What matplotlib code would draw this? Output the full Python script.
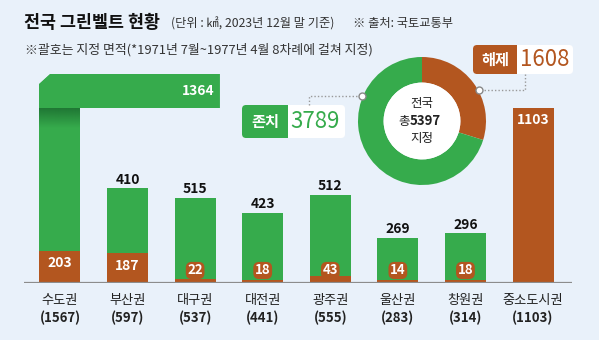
import numpy as np
import matplotlib.pyplot as plt
from matplotlib.patches import Polygon, FancyBboxPatch, Rectangle, Circle

plt.rcParams['font.family'] = ['Noto Sans CJK KR', 'DejaVu Sans']

# data (km2, end of 2023)
regions = ['수도권', '부산권', '대구권', '대전권', '광주권', '울산권', '창원권', '중소도시권']
designated = [1567, 597, 537, 441, 555, 283, 314, 1103]
remaining = [1364, 410, 515, 423, 512, 269, 296, 0]
released = [203, 187, 22, 18, 43, 14, 18, 1103]

total_designated = 5397
total_remaining = 3789
total_released = 1608

BG = '#E9F1FA'
GREEN = '#36AB4C'
ORANGE = '#B3561F'

W, H = 599, 340
fig = plt.figure(figsize=(W / 100, H / 100), dpi=100, facecolor=BG)


def box(x0, y0, x1, y1):
    # pixel box (origin top-left) -> figure rect
    return [x0 / W, 1 - y1 / H, (x1 - x0) / W, (y1 - y0) / H]


# ---- bar chart ----
SCALE = 0.1585          # px per km2
base_y, top_y = 282.7, 74
step = 67.6
ax = fig.add_axes(box(24, top_y, 572, base_y))
ax.set_facecolor('none')
ax.axis('off')
ymax = (base_y - top_y) / SCALE
x = np.arange(len(regions))
bw = 41 / step

ax.bar(x, released, bw, color=ORANGE, zorder=2)
ax.bar(x, remaining, bw, bottom=released, color=GREEN, zorder=2)
ax.axhline(0, color='#8c8c8c', lw=1.6, zorder=3)

# capital region bar bends into a banner
left = x[0] - bw / 2
right = (220 - 60) / step
y_ban = (base_y - 108) / SCALE
cx, cy = 11 / step, 10 / SCALE
ax.add_patch(Polygon([(left, y_ban), (left, ymax - cy), (left + cx, ymax),
                      (right, ymax), (right, y_ban)], closed=True,
                     fc=GREEN, ec='none', zorder=4, clip_on=False))
ax.add_patch(Polygon([(left - 0.01, ymax - cy), (left - 0.01, ymax + 1),
                      (left + cx, ymax + 1)], closed=True,
                     fc=BG, ec='none', zorder=3.5, clip_on=False))
grad = np.zeros((40, 1, 4))
grad[..., :3] = np.array([0x1C, 0x6E, 0x30]) / 255
grad[:, 0, 3] = np.linspace(0.85, 0, 40)
ax.imshow(grad, extent=[left, left + bw, y_ban - 20 / SCALE, y_ban],
          aspect='auto', zorder=3, interpolation='bilinear')
ax.text(right - 5 / step, (y_ban + ymax) / 2, f'{remaining[0]}', color='white',
        fontsize=10, fontweight='bold', ha='right', va='center', zorder=5)

ax.set_xlim(-36 / step, 7 + 39 / step)
ax.set_ylim(0, ymax)

for i in range(len(regions)):
    if 0 < i < len(regions) - 1:
        ax.annotate(f'{remaining[i]}', (x[i], designated[i]), xytext=(0, 1),
                    textcoords='offset points', ha='center', va='bottom',
                    fontsize=10, fontweight='bold', color='#111')
    if released[i] >= 100:
        ax.annotate(f'{released[i]}', (x[i], released[i]), xytext=(0, -4),
                    textcoords='offset points', ha='center', va='top',
                    fontsize=10, fontweight='bold', color='white', zorder=5)
    else:
        ax.annotate(f'{released[i]}', (x[i], 0), xytext=(0, 8.8),
                    textcoords='offset points', ha='center', va='center',
                    fontsize=9.5, fontweight='bold', color='white', zorder=5,
                    bbox=dict(boxstyle='round,pad=0.12,rounding_size=0.45',
                              fc=ORANGE, ec='none'))
    ax.annotate(regions[i], (x[i], 0), xytext=(0, -12.5),
                textcoords='offset points', ha='center', va='center',
                fontsize=9.5, color='#222', annotation_clip=False)
    ax.annotate(f'({designated[i]})', (x[i], 0), xytext=(0, -25.5),
                textcoords='offset points', ha='center', va='center',
                fontsize=9.5, fontweight='bold', color='#222', annotation_clip=False)

# ---- donut ----
dcx, dcy, r = 422, 121, 64
dax = fig.add_axes(box(dcx - r, dcy - r, dcx + r, dcy + r))
dax.pie([total_released, total_remaining], colors=[ORANGE, GREEN],
        startangle=90, counterclock=False, radius=1,
        wedgeprops=dict(width=0.4, edgecolor='none'))
dax.add_patch(Circle((0, 0), 0.6, fc='white', ec='none'))
dax.set_xlim(-1, 1)
dax.set_ylim(-1, 1)
dax.text(0, 0.28, '전국', ha='center', va='center', fontsize=9, color='#222')
dax.text(-0.19, -0.005, '총', ha='right', va='center', fontsize=9, color='#222')
dax.text(-0.19, 0, f'{total_designated}', ha='left', va='center', fontsize=9.5,
         fontweight='bold', color='#222')
dax.text(0, -0.28, '지정', ha='center', va='center', fontsize=9, color='#222')

# ---- overlay: titles and callouts ----
oax = fig.add_axes([0, 0, 1, 1], zorder=5)
oax.set_xlim(0, W)
oax.set_ylim(H, 0)
oax.axis('off')
oax.patch.set_alpha(0)

oax.text(24, 23, '전국 그린벨트 현황', fontsize=12.5, fontweight='bold',
         color='#111', va='center')
oax.text(171, 24, '(단위 : ㎢, 2023년 12월 말 기준)', fontsize=8.8,
         color='#333', va='center')
oax.text(353, 24, '※ 출처: 국토교통부', fontsize=8.8, color='#333', va='center')
oax.text(25, 50, '※괄호는 지정 면적(*1971년 7월~1977년 4월 8차례에 걸쳐 지정)',
         fontsize=9.3, color='#333', va='center')

# remaining callout
oax.plot([309, 309, 362], [105, 96, 96], ls=(0, (1, 1.5)), color='#999', lw=1)
oax.plot(362, 96, 'o', ms=5, mfc='white', mec='#888', mew=1)
oax.add_patch(FancyBboxPatch((242, 105), 103, 33,
                             boxstyle='round,pad=0,rounding_size=4',
                             fc='white', ec='none'))
oax.add_patch(FancyBboxPatch((242, 105), 46, 33,
                             boxstyle='round,pad=0,rounding_size=4',
                             fc=GREEN, ec='none'))
oax.add_patch(Rectangle((280, 105), 8, 33, fc=GREEN, ec='none'))
oax.text(265, 121.5, '존치', color='white', fontsize=11, fontweight='bold',
         ha='center', va='center')
oax.text(315, 122, f'{total_remaining}', color=GREEN, fontsize=16,
         ha='center', va='center')

# released callout
oax.plot([525, 525, 479], [74, 90, 90], ls=(0, (1, 1.5)), color='#999', lw=1)
oax.plot(479, 90, 'o', ms=5, mfc='white', mec='#888', mew=1)
oax.add_patch(FancyBboxPatch((473, 45), 100, 29,
                             boxstyle='round,pad=0,rounding_size=4',
                             fc='white', ec='none'))
oax.add_patch(FancyBboxPatch((473, 45), 44, 29,
                             boxstyle='round,pad=0,rounding_size=4',
                             fc=ORANGE, ec='none'))
oax.add_patch(Rectangle((509, 45), 8, 29, fc=ORANGE, ec='none'))
oax.text(495, 59.5, '해제', color='white', fontsize=11, fontweight='bold',
         ha='center', va='center')
oax.text(545, 60, f'{total_released}', color=ORANGE, fontsize=16,
         ha='center', va='center')

fig.savefig('out.png', dpi=100, facecolor=BG)
